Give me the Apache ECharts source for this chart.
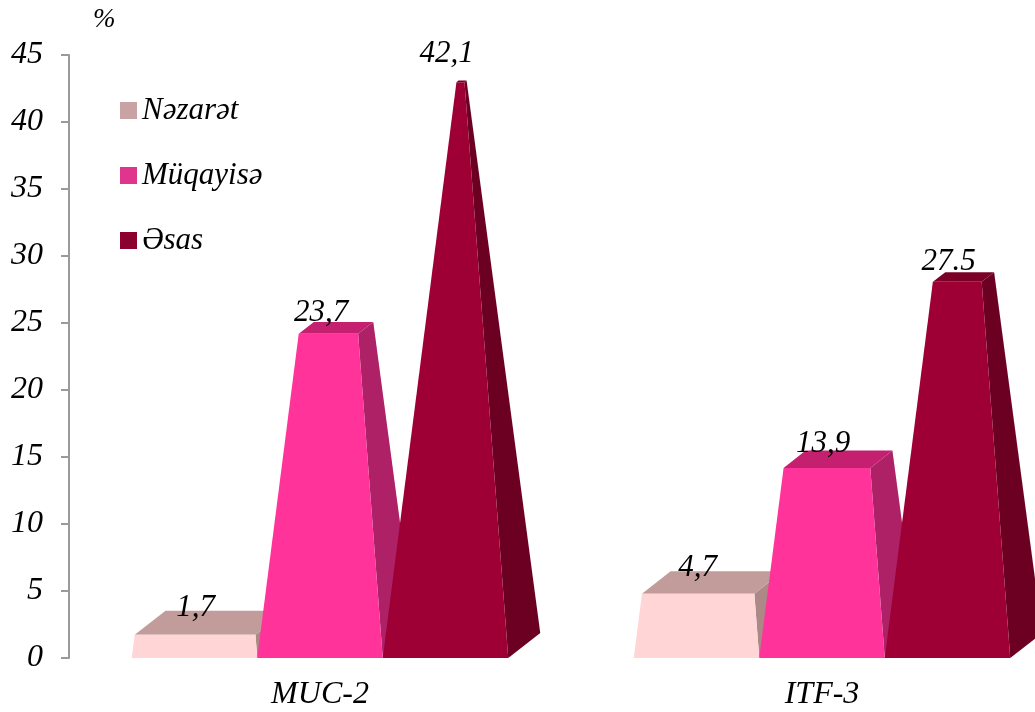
<!DOCTYPE html>
<html>
<head>
<meta charset="utf-8">
<script src="https://cdn.jsdelivr.net/npm/echarts@6/dist/echarts.min.js"></script>
<style>
html,body{margin:0;padding:0;background:#fff;}
#chart{width:1035px;height:712px;}
</style>
</head>
<body>
<div id="chart"></div>
<script>
// ---- data ----
const categories = ['MUC-2', 'ITF-3'];
const seriesNames = ['Nəzarət', 'Müqayisə', 'Əsas'];
const nazaretValues = [1.7, 4.7];
const muqayiseValues = [23.7, 13.9];
const esasValues = [42.1, 27.5];
const nazaretLabels = ['1,7', '4,7'];
const muqayiseLabels = ['23,7', '13,9'];
const esasLabels = ['42,1', '27.5'];
const yTicks = { min: 0, max: 45, interval: 5 };

// ---- styles ----
const FONT = 'Liberation Serif, DejaVu Serif, serif';
const faceColors = [
  { front: '#FFD5D6', top: '#C19C9B', side: '#AC8886', icon: '#C9A3A3' },
  { front: '#FF3399', top: '#C4206F', side: '#AE2166', icon: '#E0358C' },
  { front: '#9E0036', top: '#7A0028', side: '#6B0023', icon: '#8C002F' }
];
const DEPTH_X = 32, DEPTH_Y = 25;

const allValues = [nazaretValues, muqayiseValues, esasValues];
const allLabels = [nazaretLabels, muqayiseLabels, esasLabels];

function makeRender(si) {
  return function (params, api) {
    const cat = api.value(0);
    const v = api.value(1);
    const ground = api.coord([cat, 0]);
    const topPt = api.coord([cat, v]);
    const maxPt = api.coord([cat, yTicks.max]);
    const band = api.size([1, 0])[0];
    const bw = band * 0.25;
    const x0 = ground[0] + (si - 1.5) * bw;
    const x1 = x0 + bw;
    const yg = ground[1];
    const h = yg - topPt[1];
    const H = yg - maxPt[1];
    const s = 1 - h / H;
    const cx = (x0 + x1) / 2 + DEPTH_X / 2;
    const cy = yg - DEPTH_Y / 2;
    const FL = [x0, yg], FR = [x1, yg], BL = [x0 + DEPTH_X, yg - DEPTH_Y], BR = [x1 + DEPTH_X, yg - DEPTH_Y];
    const tp = p => [cx + s * (p[0] - cx), cy - h + s * (p[1] - cy)];
    const FLt = tp(FL), FRt = tp(FR), BLt = tp(BL), BRt = tp(BR);
    const c = faceColors[si];
    const label = allLabels[si][params.dataIndex];
    const lift = s < 0.15 ? 28 : 15;
    return {
      type: 'group',
      children: [
        { type: 'polygon', shape: { points: [FR, BR, BRt, FRt] }, style: { fill: c.side } },
        { type: 'polygon', shape: { points: [FLt, FRt, BRt, BLt] }, style: { fill: c.top } },
        { type: 'polygon', shape: { points: [FL, FR, FRt, FLt] }, style: { fill: c.front } },
        {
          type: 'text', z2: 100,
          style: {
            text: label, x: (x0 + x1) / 2 + 1, y: cy - h - lift,
            align: 'center', verticalAlign: 'middle',
            font: 'italic 31px ' + FONT, fill: '#000'
          }
        }
      ]
    };
  };
}

const series = seriesNames.map((name, si) => ({
  type: 'custom',
  name: name,
  renderItem: makeRender(si),
  itemStyle: { color: faceColors[si].icon },
  encode: { x: 0, y: 1 },
  data: allValues[si].map((v, i) => [i, v])
}));

const chart = echarts.init(document.getElementById('chart'));
chart.setOption({
  backgroundColor: '#fff',
  animation: false,
  grid: { left: 69, top: 55, width: 1004, height: 603, containLabel: false, outerBoundsMode: 'none' },
  legend: {
    orient: 'vertical', left: 120, top: 95, padding: 0,
    itemWidth: 17, itemHeight: 17, itemGap: 34, icon: 'rect',
    data: seriesNames,
    textStyle: { fontFamily: FONT, fontStyle: 'italic', fontSize: 31, lineHeight: 30, color: '#000' }
  },
  graphic: [{
    type: 'text', left: 93, top: 6,
    style: { text: '%', font: 'italic 27px ' + FONT, fill: '#000' }
  }],
  xAxis: {
    type: 'category', data: categories,
    axisLine: { show: false }, axisTick: { show: false },
    axisLabel: { margin: 21, fontFamily: FONT, fontStyle: 'italic', fontSize: 32, color: '#000' },
    splitLine: { show: false }
  },
  yAxis: {
    type: 'value', min: yTicks.min, max: yTicks.max, interval: yTicks.interval,
    axisLine: { show: true, lineStyle: { color: '#9a9a9a', width: 2 } },
    axisTick: { show: true, length: 8, lineStyle: { color: '#9a9a9a', width: 2 } },
    axisLabel: { margin: 26, fontFamily: FONT, fontStyle: 'italic', fontSize: 32, color: '#000' },
    splitLine: { show: false }
  },
  series: series
});
</script>
</body>
</html>
